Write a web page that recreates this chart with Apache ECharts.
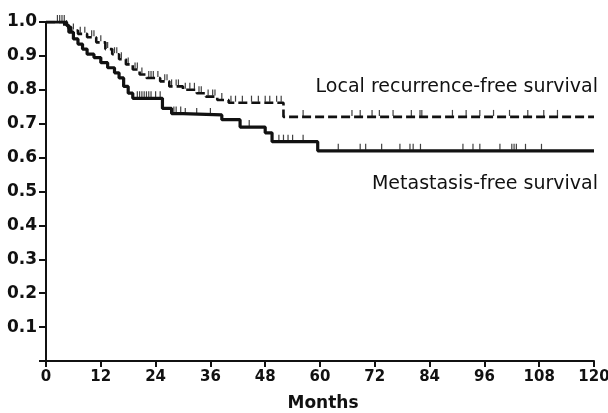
<!DOCTYPE html>
<html>
<head>
<meta charset="utf-8">
<script src="https://cdn.jsdelivr.net/npm/echarts@6/dist/echarts.min.js"></script>
<style>
  html, body { margin: 0; padding: 0; background: #fff; }
  #chart { width: 608px; height: 413px; }
</style>
</head>
<body>
<div id="chart"></div>
<script>
// Kaplan-Meier step points: [month, survival proportion]
const localRecurrenceSteps = [
  [0, 1.0], [4, 0.985], [5.5, 0.975], [7, 0.965], [9, 0.955], [11, 0.94],
  [13, 0.92], [14.5, 0.905], [16, 0.89], [17.5, 0.875], [19, 0.86],
  [20.5, 0.845], [22, 0.835], [25, 0.825], [27, 0.81], [30, 0.80],
  [33, 0.79], [35, 0.78], [37.5, 0.77], [40, 0.762], [52, 0.72], [120, 0.72]
];
const metastasisSteps = [
  [0, 1.0], [4.5, 0.99], [5, 0.97], [6, 0.95], [7, 0.935], [8, 0.92],
  [9, 0.905], [10.5, 0.895], [12, 0.88], [13.5, 0.865], [15, 0.85],
  [16, 0.835], [17, 0.81], [18, 0.79], [19, 0.775], [25.5, 0.745],
  [27.5, 0.73], [30, 0.726], [38.5, 0.712], [42.5, 0.69], [48, 0.673],
  [49.5, 0.647], [59.5, 0.62], [120, 0.62]
];
// Censored observations (months)
const localCensored = [
  2.5, 3.5, 4.5, 6, 7.5, 8.5, 10, 10.5, 12, 13.5, 15, 15.5, 16.5, 18, 19.5,
  20, 21, 22.5, 23, 23.5, 24.5, 26, 26.5, 27.5, 28.5, 29, 30.5, 31.5, 32.5,
  33.5, 34, 35.5, 36.5, 37, 38.5, 40.5, 41.5, 43, 45, 46.5, 48, 49, 50.5,
  51.5, 56.3, 67, 68.8, 71.4, 73, 76, 80, 81.9, 82.3, 89, 92, 95, 98, 101.5,
  105.5, 109, 112
];
const metastasisCensored = [
  3, 4, 20, 20.5, 21, 21.5, 22, 22.5, 23, 24, 25, 28, 28.5, 29.5, 30.5, 33,
  36, 44.5, 51, 52, 53, 54, 56.3, 64, 68.8, 70, 73.5, 77.5, 79.7, 80.4, 82,
  91.3, 93.5, 95, 99.4, 102, 102.5, 103, 105, 108.5
];
const xTicks = [0, 12, 24, 36, 48, 60, 72, 84, 96, 108, 120];
const yTicks = [0.1, 0.2, 0.3, 0.4, 0.5, 0.6, 0.7, 0.8, 0.9, 1.0];

// survival value of a step curve at time t
function survivalAt(steps, t) {
  let v = steps[0][1];
  for (const [time, s] of steps) {
    if (time <= t) v = s; else break;
  }
  return v;
}

const tickFont = 'DejaVu Sans';
const chart = echarts.init(document.getElementById('chart'), null, { renderer: 'canvas' });

chart.setOption({
  animation: false,
  backgroundColor: '#ffffff',
  grid: { left: 46, right: 14, top: 22, bottom: 52, containLabel: false, outerBoundsMode: 'none' },
  xAxis: {
    type: 'value', min: 0, max: 120, interval: 12,
    name: 'Months', nameLocation: 'middle', nameGap: 34,
    nameTextStyle: { fontFamily: tickFont, fontWeight: 'bold', fontSize: 17, color: '#111', padding: [0, 0, 0, 6] },
    axisLine: { onZero: false, lineStyle: { color: '#111', width: 2 } },
    axisTick: { show: true, length: 6, lineStyle: { color: '#111', width: 2 } },
    axisLabel: {
      fontFamily: tickFont, fontWeight: 'bold', fontSize: 15, color: '#111', margin: 9,
      formatter: v => xTicks.includes(v) ? String(v) : ''
    },
    splitLine: { show: false }
  },
  yAxis: {
    type: 'value', min: 0, max: 1.0, interval: 0.1,
    axisLine: { show: true, lineStyle: { color: '#111', width: 2 } },
    axisTick: { show: true, length: 7, lineStyle: { color: '#111', width: 2 } },
    axisLabel: {
      fontFamily: tickFont, fontWeight: 'bold', fontSize: 17, color: '#111', margin: 9,
      formatter: v => {
        const hit = yTicks.find(t => Math.abs(t - v) < 1e-6);
        return hit !== undefined ? hit.toFixed(1) : '';
      }
    },
    splitLine: { show: false }
  },
  graphic: [
    {
      type: 'text', right: 10, top: 78,
      style: { text: 'Local recurrence-free survival', font: '19px "DejaVu Sans"', fill: '#111' }
    },
    {
      type: 'text', right: 10, top: 175,
      style: { text: 'Metastasis-free survival', font: '19px "DejaVu Sans"', fill: '#111' }
    }
  ],
  series: [
    {
      name: 'Local recurrence-free survival', type: 'line', step: 'end',
      data: localRecurrenceSteps, showSymbol: false,
      lineStyle: { color: '#111', width: 2.6, type: [9, 4] }
    },
    {
      name: 'Metastasis-free survival', type: 'line', step: 'end',
      data: metastasisSteps, showSymbol: false,
      lineStyle: { color: '#111', width: 3.2, type: 'solid' }
    },
    {
      name: 'Local censored', type: 'scatter',
      data: localCensored.map(t => [t, survivalAt(localRecurrenceSteps, t)]),
      symbol: 'rect', symbolSize: [1.2, 6], symbolOffset: [0, -4],
      itemStyle: { color: '#111' }
    },
    {
      name: 'Metastasis censored', type: 'scatter',
      data: metastasisCensored.map(t => [t, survivalAt(metastasisSteps, t)]),
      symbol: 'rect', symbolSize: [1.2, 6], symbolOffset: [0, -4],
      itemStyle: { color: '#111' }
    }
  ]
});
</script>
</body>
</html>
